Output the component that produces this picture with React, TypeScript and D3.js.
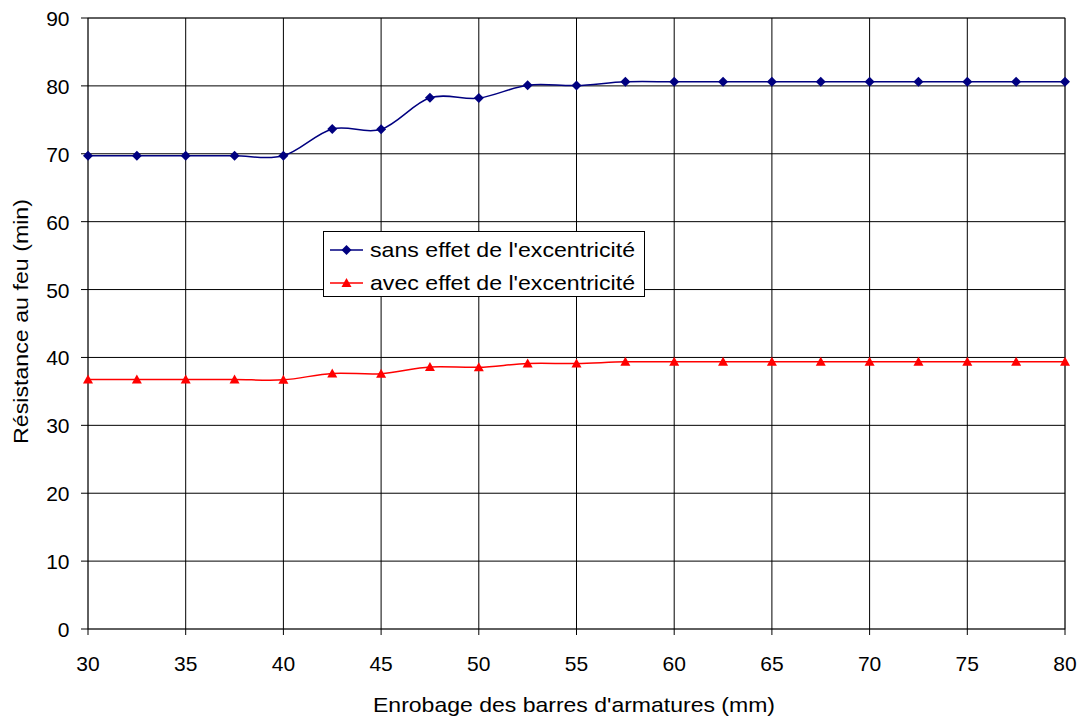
import React from "react";
import * as d3 from "d3";

const xValues = [30, 32.5, 35, 37.5, 40, 42.5, 45, 47.5, 50, 52.5, 55, 57.5, 60, 62.5, 65, 67.5, 70, 72.5, 75, 77.5, 80];
const sansEffet = [69.7, 69.7, 69.7, 69.7, 69.7, 73.65, 73.6, 78.25, 78.2, 80.1, 80.05, 80.6, 80.6, 80.6, 80.6, 80.6, 80.6, 80.6, 80.6, 80.6, 80.6];
const avecEffet = [36.75, 36.75, 36.75, 36.75, 36.7, 37.65, 37.6, 38.6, 38.55, 39.1, 39.1, 39.35, 39.35, 39.35, 39.35, 39.35, 39.35, 39.35, 39.35, 39.35, 39.35];
const xTicks = [30, 35, 40, 45, 50, 55, 60, 65, 70, 75, 80];
const yTicks = [0, 10, 20, 30, 40, 50, 60, 70, 80, 90];
const seriesNames = ["sans effet de l'excentricité", "avec effet de l'excentricité"];

const W = 1081, H = 716;
const L = 88, R = 1065, T = 18, B = 629;
const font = "Liberation Sans, Arial, sans-serif";

export default function App() {
  const x = d3.scaleLinear().domain([30, 80]).range([L, R]);
  const y = d3.scaleLinear().domain([0, 90]).range([B, T]);
  const line = d3.line<number>().x((_, i) => x(xValues[i])).y(d => y(d)).curve(d3.curveCardinal.tension(0));
  const diamond = (cx: number, cy: number) => `M${cx},${cy - 5}L${cx + 5},${cy}L${cx},${cy + 5}L${cx - 5},${cy}Z`;
  const tri = (cx: number, cy: number) => `M${cx},${cy - 5}L${cx + 5},${cy + 4}L${cx - 5},${cy + 4}Z`;
  return (
    <svg width={W} height={H} style={{ position: "absolute", left: 0, top: 0, background: "#fff" }}>
      <rect x={0} y={0} width={W} height={H} fill="#fff" />
      <rect x={L} y={T} width={R - L} height={B - T} fill="none" stroke="#808080" strokeWidth={1} />
      {yTicks.map(t => (
        <g key={"y" + t}>
          <line x1={L - 7} x2={R} y1={y(t)} y2={y(t)} stroke="#000" strokeWidth={1} />
          <text x={69.5} y={y(t) + 8} textAnchor="end" fontFamily={font} fontSize={21}>{t}</text>
        </g>
      ))}
      {xTicks.map(t => (
        <g key={"x" + t}>
          <line x1={x(t)} x2={x(t)} y1={T} y2={B + 6} stroke="#000" strokeWidth={1} />
          <text x={x(t)} y={671} textAnchor="middle" fontFamily={font} fontSize={21}>{t}</text>
        </g>
      ))}
      <text x={574} y={712} textAnchor="middle" fontFamily={font} fontSize={21} textLength={402} lengthAdjust="spacingAndGlyphs">Enrobage des barres d'armatures (mm)</text>
      <text transform={`translate(28,321.5) rotate(-90)`} textAnchor="middle" fontFamily={font} fontSize={21} textLength={245} lengthAdjust="spacingAndGlyphs">Résistance au feu (min)</text>
      <path d={line(sansEffet) || ""} fill="none" stroke="#000080" strokeWidth={1.5} />
      <path d={line(avecEffet) || ""} fill="none" stroke="#FF0000" strokeWidth={1.5} />
      {sansEffet.map((v, i) => <path key={"b" + i} d={diamond(x(xValues[i]), y(v))} fill="#000080" />)}
      {avecEffet.map((v, i) => <path key={"r" + i} d={tri(x(xValues[i]), y(v))} fill="#FF0000" />)}
      <g>
        <rect x={323.5} y={231.5} width={321} height={65} fill="#fff" stroke="#000" strokeWidth={1} />
        <line x1={330} x2={363} y1={250} y2={250} stroke="#000080" strokeWidth={1.5} />
        <path d={diamond(346.5, 250)} fill="#000080" />
        <text x={370} y={257} fontFamily={font} fontSize={21} textLength={265} lengthAdjust="spacingAndGlyphs">{seriesNames[0]}</text>
        <line x1={330} x2={363} y1={283} y2={283} stroke="#FF0000" strokeWidth={1.5} />
        <path d={tri(346.5, 283)} fill="#FF0000" />
        <text x={370} y={290} fontFamily={font} fontSize={21} textLength={265} lengthAdjust="spacingAndGlyphs">{seriesNames[1]}</text>
      </g>
    </svg>
  );
}
